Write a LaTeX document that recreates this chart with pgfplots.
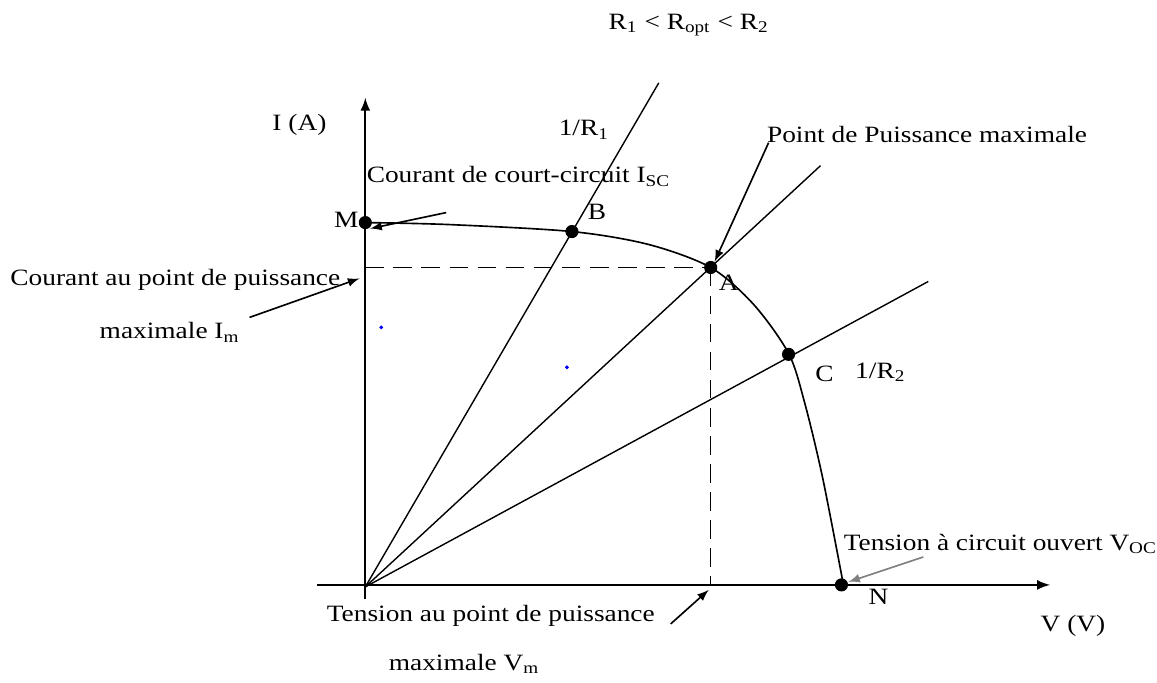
\documentclass[border=0pt]{standalone}
\usepackage{pgfplots}
\pgfplotsset{compat=1.18}
\usepackage{fontspec}
\setmainfont{Liberation Serif}[FakeStretch=1.17]
\newcommand\lab{\fontsize{12}{14.4}\selectfont}

\begin{document}
\begin{tikzpicture}
  \begin{axis}[
    scale only axis,
    width=17.355cm, height=10.26cm,
    xmin=-366, xmax=791, ymin=-96, ymax=588,
    hide axis, clip=false,
    every node/.append style={font=\lab},
  ]
    \path (rel axis cs:0,0) rectangle (rel axis cs:1,1);
    % axes
    \addplot[black, line width=0.9pt, -latex] coordinates {(0,-12) (0,490)};
    \addplot[black, line width=0.9pt, -latex] coordinates {(-48,2) (686,2)};
    % load lines
    \addplot[black, line width=0.6pt] coordinates {(0,0) (294,505)};
    \addplot[black, line width=0.6pt] coordinates {(0,0) (456,422)};
    \addplot[black, line width=0.6pt] coordinates {(0,0) (564,306)};
    % I-V curve
    \addplot[black, line width=0.7pt, smooth] coordinates {
      (0,365) (84,363) (207,356) (284,343) (346,320) (389,283)
      (424,234) (440,185) (458,110) (479,2)};
    % maximum power point projections
    \addplot[black, line width=0.6pt, dash pattern=on 8pt off 4pt] coordinates {(0,320) (346,320)};
    \addplot[black, line width=0.6pt, dash pattern=on 8pt off 4pt] coordinates {(346,320) (346,2)};
    % points
    \addplot[only marks, mark=*, mark size=2.6pt, black] coordinates {
      (0,365) (207,356) (346,320) (424,233) (477,2)};
    \addplot[only marks, mark=*, mark size=0.6pt, blue] coordinates {(16,260) (202,220)};
    % annotation arrows
    \addplot[black, line width=0.7pt, -latex] coordinates {(404,445) (350,326)};
    \addplot[black, line width=0.7pt, -latex] coordinates {(81,375) (5,359)};
    \addplot[black, line width=0.7pt, -latex] coordinates {(-116,270) (-6,309)};
    \addplot[black, line width=0.7pt, -latex] coordinates {(306,-37) (344,-3)};
    \addplot[gray, line width=0.7pt, -latex] coordinates {(559,30) (484,5)};
    % labels
    \node at (axis cs:324,563) {R\textsubscript{1} < R\textsubscript{opt} < R\textsubscript{2}};
    \node at (axis cs:-66,463) {I (A)};
    \node at (axis cs:219,458) {1/R\textsubscript{1}};
    \node[anchor=west, inner sep=0pt] at (axis cs:402,453) {Point de Puissance maximale};
    \node[anchor=west, inner sep=0pt] at (axis cs:1,411) {Courant de court-circuit I\textsubscript{SC}};
    \node at (axis cs:-19,368) {M};
    \node at (axis cs:232,376) {B};
    \node at (axis cs:364,305) {A};
    \node at (axis cs:460,213) {C};
    \node at (axis cs:516,215) {1/R\textsubscript{2}};
    \node at (axis cs:514,-10) {N};
    \node at (axis cs:709,-39) {V (V)};
    \node[anchor=west, inner sep=0pt] at (axis cs:-356,308) {Courant au point de puissance};
    \node at (axis cs:-196,255) {maximale I\textsubscript{m}};
    \node[anchor=west, inner sep=0pt] at (axis cs:-39,-29) {Tension au point de puissance};
    \node at (axis cs:99,-77) {maximale V\textsubscript{m}};
    \node[anchor=west, inner sep=0pt] at (axis cs:479,43) {Tension à circuit ouvert V\textsubscript{OC}};
  \end{axis}
\end{tikzpicture}
\end{document}
